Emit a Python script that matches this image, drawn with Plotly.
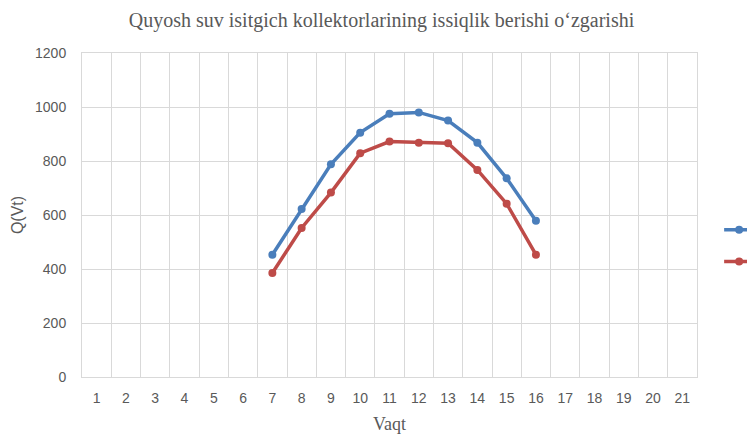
import plotly.graph_objects as go

hours = [7, 8, 9, 10, 11, 12, 13, 14, 15, 16]
series1 = [453, 622, 788, 905, 975, 980, 950, 868, 736, 579]
series2 = [385, 552, 683, 829, 872, 868, 866, 767, 642, 453]
tick_labels = [str(i) for i in range(1, 22)]
names = ["Kollektor 1", "Kollektor 2"]

GRID = "#D9D9D9"
fig = go.Figure()
for i, (ys, col) in enumerate([(series1, "#4A7EBB"), (series2, "#BE4B48")]):
    fig.add_trace(go.Scatter(
        x=hours, y=ys, mode="lines+markers", name=names[i], legendgroup=f"g{i}",
        line=dict(color=col, width=3.5),
        marker=dict(color=col, size=8),
    ))

fig.update_layout(
    width=747, height=426,
    margin=dict(l=74, r=58, t=45, b=57, autoexpand=False),
    paper_bgcolor="white", plot_bgcolor="white",
    title=dict(text="Quyosh suv isitgich kollektorlarining issiqlik berishi o‘zgarishi",
               x=0.5, xref="container", y=0.972, yanchor="middle",
               font=dict(family="Liberation Serif", size=20, color="#595959")),
    showlegend=True,
    legend=dict(x=1.036, xanchor="left", y=0.501, yanchor="top",
                traceorder="grouped", tracegroupgap=12,
                font=dict(family="Liberation Sans", size=13, color="#595959"),
                bgcolor="rgba(0,0,0,0)"),
    xaxis=dict(
        range=[0.5, 21.5], tickmode="array",
        tickvals=list(range(1, 22)), ticktext=tick_labels,
        showgrid=False, zeroline=False,
        showline=True, linecolor=GRID, linewidth=1, mirror=True,
        minor=dict(tick0=0.5, dtick=1, showgrid=True, gridcolor=GRID, gridwidth=1, ticks=""),
        ticks="", ticklabelstandoff=8,
        tickfont=dict(family="Liberation Sans", size=14, color="#595959"),
        title=dict(text="Vaqt", standoff=12,
                   font=dict(family="Liberation Serif", size=18, color="#595959")),
    ),
    yaxis=dict(
        range=[0, 1200], dtick=200, tick0=0,
        showgrid=True, gridcolor=GRID, gridwidth=1, zeroline=False,
        showline=True, linecolor=GRID, linewidth=1, mirror=True,
        ticks="", ticklabelstandoff=12,
        tickfont=dict(family="Liberation Sans", size=14, color="#595959"),
        title=dict(text="Q(Vt)", standoff=7,
                   font=dict(family="Liberation Sans", size=16, color="#595959")),
    ),
)

fig.write_html("out.html")
